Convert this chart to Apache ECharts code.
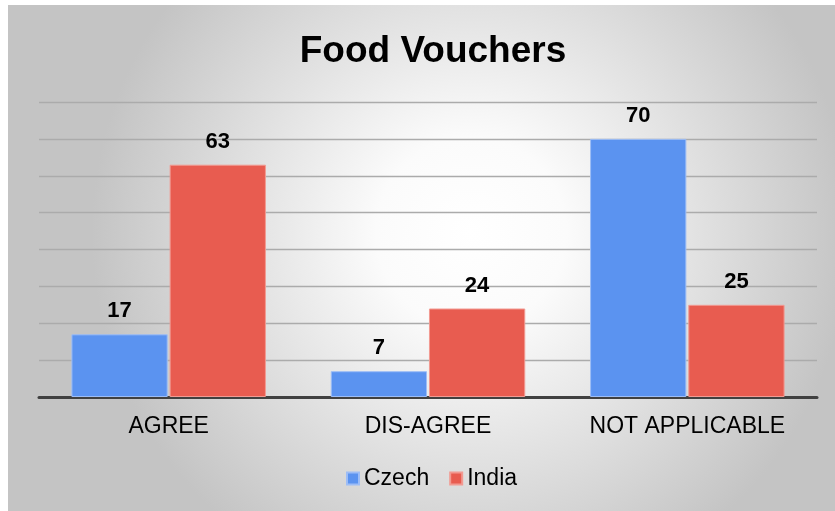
<!DOCTYPE html>
<html>
<head>
  <meta charset="utf-8" />
  <title>Food Vouchers</title>
  <script src="https://cdn.jsdelivr.net/npm/echarts@6/dist/echarts.min.js"></script>
  <style>
    html, body {
      margin: 0;
      padding: 0;
      background: #ffffff;
    }
    #main {
      position: absolute;
      left: 8px;
      top: 5px;
      width: 827px;
      height: 506px;
    }
  </style>
</head>
<body>
<div id="main"></div>
<script>
  // 数据
  var categories = ['AGREE', 'DIS-AGREE', 'NOT APPLICABLE'];
  var czech = [17, 7, 70];
  var india = [63, 24, 25];

  var myChart = echarts.init(document.getElementById('main'));

  var labelStyle = {
    show: true,
    position: 'top',
    distance: 12,
    color: '#000',
    fontSize: 22,
    fontWeight: 'bold',
    fontFamily: 'Liberation Sans, Arial'
  };

  var option = {
    backgroundColor: {
      type: 'radial',
      x: 0.56, y: 0.45, r: 0.75,
      colorStops: [
        { offset: 0, color: '#ffffff' },
        { offset: 0.25, color: '#fbfbfb' },
        { offset: 1, color: '#c4c4c4' }
      ]
    },
    title: {
      text: 'Food Vouchers',
      left: 420,
      top: 23,
      textAlign: 'center',
      textStyle: {
        color: '#000',
        fontSize: 37,
        fontWeight: 'bold',
        fontFamily: 'Liberation Sans, Arial'
      }
    },
    legend: {
      data: ['Czech', 'India'],
      left: 333,
      top: 457,
      itemWidth: 12,
      itemHeight: 12,
      itemGap: 20,
      icon: 'rect',
      textStyle: {
        color: '#000',
        fontSize: 23,
        fontFamily: 'Liberation Sans, Arial'
      }
    },
    grid: {
      left: 31,
      right: 18,
      top: 97,
      bottom: 114,
      containLabel: false
    },
    xAxis: {
      type: 'category',
      data: categories,
      axisLine: { lineStyle: { color: '#404040', width: 3 } },
      axisTick: { show: false },
      axisLabel: {
        color: '#000',
        fontSize: 23,
        margin: 18,
        fontFamily: 'Liberation Sans, Arial'
      }
    },
    yAxis: {
      type: 'value',
      min: 0,
      max: 80,
      interval: 10,
      axisLabel: { show: false },
      axisLine: { show: false },
      axisTick: { show: false },
      splitLine: { lineStyle: { color: '#ababab', width: 1.3 } }
    },
    series: [
      {
        name: 'Czech',
        type: 'bar',
        data: czech,
        barGap: '2%',
        barCategoryGap: '25%',
        itemStyle: { color: '#5b93f0', borderColor: '#9dbdf6', borderWidth: 1 },
        label: labelStyle
      },
      {
        name: 'India',
        type: 'bar',
        data: india,
        itemStyle: { color: '#e85c50', borderColor: '#f29a92', borderWidth: 1 },
        label: labelStyle
      }
    ]
  };

  myChart.setOption(option);
</script>
</body>
</html>
